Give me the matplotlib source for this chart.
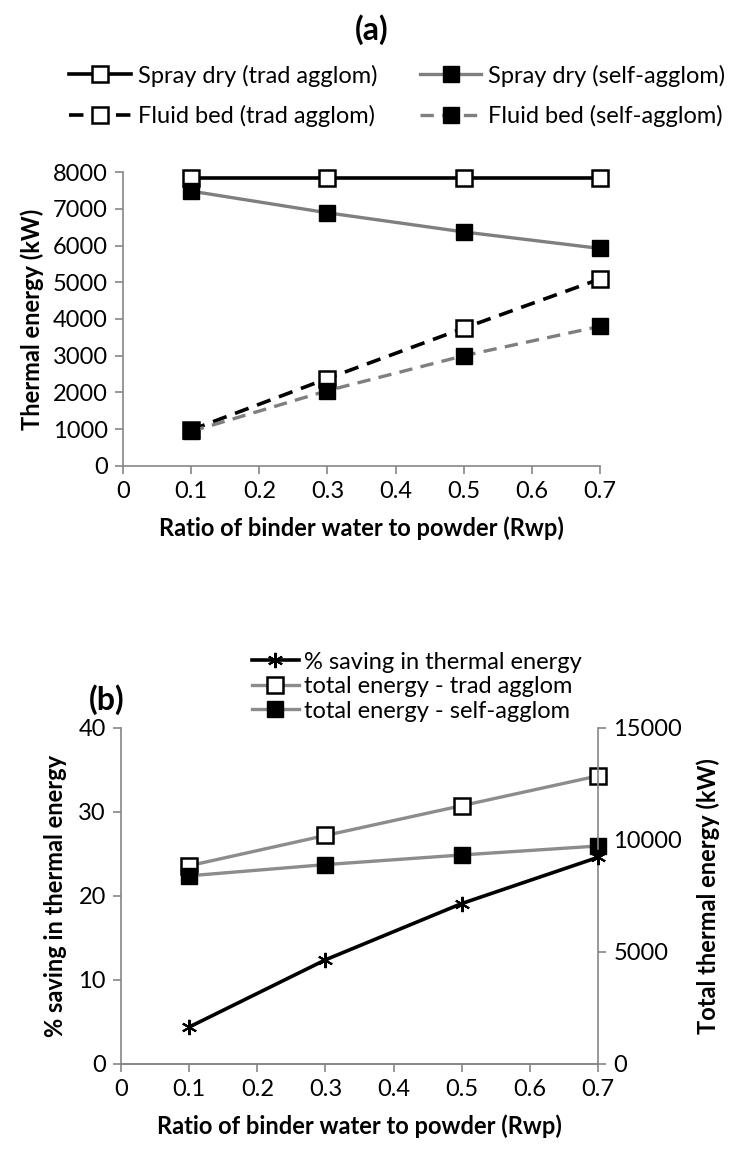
""" Thermal energy of spray dry vs fluid bed agglomeration """

import matplotlib.pyplot as plt

plt.rcParams['font.family'] = ['Lato', 'DejaVu Sans']

rwp = [0.1, 0.3, 0.5, 0.7]

# panel (a) thermal energy, kW
spray_trad = [7850, 7850, 7850, 7850]
spray_self = [7480, 6890, 6370, 5920]
fluid_trad = [980, 2380, 3750, 5090]
fluid_self = [940, 2050, 3000, 3800]

# panel (b)
saving_pct = [4.4, 12.4, 19.1, 24.6]
total_trad = [8850, 10200, 11530, 12860]
total_self = [8400, 8900, 9330, 9730]

x_ticks = [0, 0.1, 0.2, 0.3, 0.4, 0.5, 0.6, 0.7]
x_label = 'Ratio of binder water to powder (Rwp)'

spine_col = '#868686'
grey = '#7f7f7f'
grey_b = '#8c8c8c'
fs = 17
lfs = 17


def style_axis(ax, right=False):
    ax.spines['top'].set_visible(False)
    if not right:
        ax.spines['right'].set_visible(False)
    for s in ax.spines.values():
        s.set_color(spine_col)
        s.set_linewidth(1.2)
    ax.tick_params(direction='out', length=6, width=1.2, color=spine_col,
                   labelsize=fs, pad=5)
    ax.set_xlim(0, 0.7)
    ax.set_xticks(x_ticks)
    ax.set_xticklabels(['0', '0.1', '0.2', '0.3', '0.4', '0.5', '0.6', '0.7'])


fig = plt.figure(figsize=(7.43, 11.56), dpi=100)

# ---- (a) ----
ax1 = fig.add_axes([0.1655, 0.5969, 0.642, 0.2543])
ax1.plot(rwp, spray_trad, color='black', lw=2.6, marker='s', ms=11, clip_on=False,
         mfc='white', mec='black', mew=1.8, label='Spray dry (trad agglom)')
ax1.plot(rwp, fluid_trad, color='black', lw=2.6, ls=(0, (4, 2.5)), marker='s', ms=11,
         clip_on=False, mfc='white', mec='black', mew=1.8, label='Fluid bed (trad agglom)')
ax1.plot(rwp, spray_self, color=grey, lw=2.4, marker='s', ms=12, clip_on=False,
         mfc='black', mec='black', label='Spray dry (self-agglom)')
ax1.plot(rwp, fluid_self, color=grey, lw=2.4, ls=(0, (4, 2.5)), marker='s', ms=12,
         clip_on=False, mfc='black', mec='black', label='Fluid bed (self-agglom)')
style_axis(ax1)
ax1.set_ylim(0, 8000)
ax1.set_yticks(range(0, 8001, 1000))
ax1.set_ylabel('Thermal energy (kW)', fontsize=lfs, fontweight='bold', labelpad=6)
ax1.set_xlabel(x_label, fontsize=lfs, fontweight='bold', labelpad=10)
ax1.legend(loc='center', bbox_to_anchor=(0.535, 0.917), bbox_transform=fig.transFigure,
           ncol=2, frameon=False, fontsize=fs, handlelength=2.6, handletextpad=0.3,
           columnspacing=1.8, labelspacing=0.8)
fig.text(0.5, 0.974, '(a)', ha='center', va='center', fontsize=23, fontweight='bold')

# ---- (b) ----
ax2 = fig.add_axes([0.1629, 0.0796, 0.642, 0.2907])
ax3 = ax2.twinx()
ax3.plot(rwp, total_trad, color=grey_b, lw=2.4, marker='s', ms=11, clip_on=False,
         mfc='white', mec='black', mew=1.8, label='total energy - trad agglom')
ax3.plot(rwp, total_self, color=grey_b, lw=2.4, marker='s', ms=12, clip_on=False,
         mfc='black', mec='black', label='total energy - self-agglom')
ax2.plot(rwp, saving_pct, color='black', lw=2.6, marker=(6, 2, 0), ms=11, mew=1.5,
         clip_on=False, mec='black', label='% saving in thermal energy')
ax2.set_zorder(ax3.get_zorder() + 1)
ax2.patch.set_visible(False)
style_axis(ax2)
style_axis(ax3, right=True)
ax3.spines['left'].set_visible(False)
ax2.set_ylim(0, 40)
ax2.set_yticks([0, 10, 20, 30, 40])
ax3.set_ylim(0, 15000)
ax3.set_yticks([0, 5000, 10000, 15000])
ax2.set_ylabel('% saving in thermal energy', fontsize=lfs, fontweight='bold', labelpad=8)
ax3.set_ylabel('Total thermal energy (kW)', fontsize=lfs, fontweight='bold', labelpad=10)
ax2.set_xlabel(x_label, fontsize=lfs, fontweight='bold', labelpad=10)

h2, l2 = ax2.get_legend_handles_labels()
h3, l3 = ax3.get_legend_handles_labels()
fig.legend(h2 + h3, l2 + l3, loc='center left', bbox_to_anchor=(0.31, 0.406),
           frameon=False, fontsize=fs, handlelength=2.0, handletextpad=0.2,
           labelspacing=0.15)
fig.text(0.143, 0.395, '(b)', ha='center', va='center', fontsize=23, fontweight='bold')

fig.savefig('out.png', dpi=100)
